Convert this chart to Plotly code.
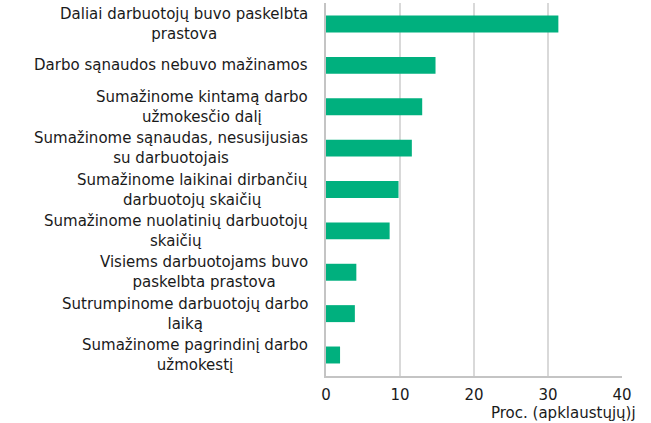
import plotly.graph_objects as go

categories = [
    "Daliai darbuotojų buvo paskelbta<br>prastova",
    "Darbo sąnaudos nebuvo mažinamos",
    "Sumažinome kintamą darbo<br>užmokesčio dalį",
    "Sumažinome sąnaudas, nesusijusias<br>su darbuotojais",
    "Sumažinome laikinai dirbančių<br>darbuotojų skaičių",
    "Sumažinome nuolatinių darbuotojų<br>skaičių",
    "Visiems darbuotojams buvo<br>paskelbta prastova",
    "Sutrumpinome darbuotojų darbo<br>laiką",
    "Sumažinome pagrindinį darbo<br>užmokestį",
]
values = [31.4, 14.8, 13.0, 11.6, 9.8, 8.6, 4.1, 3.9, 1.9]
x_ticks = [0, 10, 20, 30, 40]
x_title = "Proc. (apklaustųjų)j"

font = "DejaVu Sans, Verdana, sans-serif"
txt = "#1a1a1a"

fig = go.Figure(go.Bar(
    x=values, y=categories, orientation="h",
    marker=dict(color="#00B07E", line=dict(width=0)),
))

label_annotations = [
    dict(text=c, xref="paper", yref="y", x=0, y=c, xanchor="right",
         yanchor="middle", align="center", xshift=-16, showarrow=False,
         font=dict(size=15, color=txt))
    for c in categories
]

fig.update_layout(
    width=651, height=423,
    margin=dict(l=326, r=29, t=3, b=47, autoexpand=False),
    paper_bgcolor="white", plot_bgcolor="white",
    bargap=0.59,
    showlegend=False,
    font=dict(family=font, size=15, color=txt),
    xaxis=dict(
        range=[0, 40], tickvals=x_ticks, showgrid=True,
        gridcolor="#d9d9d9", gridwidth=1.5, zeroline=False,
        showline=True, linecolor="#c4c4c4", linewidth=2,
        ticks="", tickfont=dict(size=15, color=txt),
        ticklabelstandoff=4, automargin=False,
    ),
    yaxis=dict(
        autorange="reversed", showline=True, linecolor="#c4c4c4",
        linewidth=2, ticks="", showgrid=False, showticklabels=False,
        automargin=False,
    ),
    annotations=label_annotations + [dict(
        text=x_title, xref="paper", yref="paper", x=1.054, y=-0.071,
        xanchor="right", yanchor="top", showarrow=False,
        font=dict(size=15, color=txt),
    )],
)

fig.write_html(
    "out.html",
    config={"displayModeBar": False},
    post_script="document.body.style.margin='0';document.body.style.overflow='hidden';",
)
